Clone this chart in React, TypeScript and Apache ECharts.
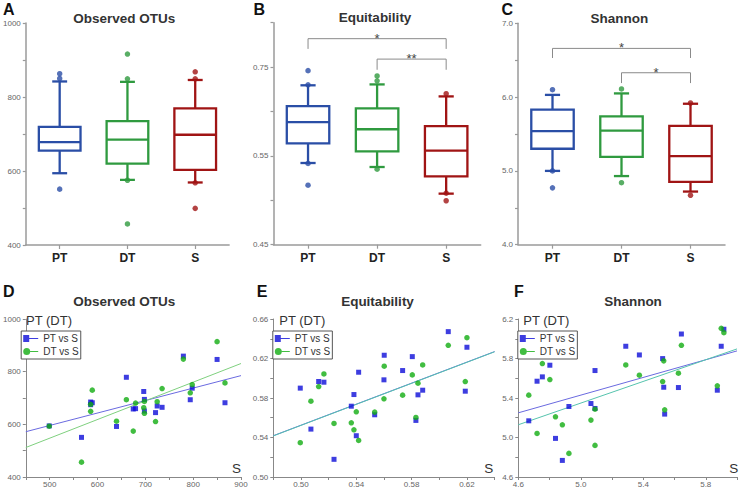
import React, { useEffect, useRef } from 'react';
import * as echarts from 'echarts';

const FONT = '"Liberation Sans", Arial, Helvetica, sans-serif';

// ---------- top row: box plots ----------
const GROUPS = ['PT', 'DT', 'S'];
const BOX_COLORS = ['#2a4ea6', '#2f9a3f', '#a01414'];

// [lower whisker, Q1, median, Q3, upper whisker]
const OTU_BOX = [
  [594, 655, 678, 719, 842],
  [576, 620, 685, 735, 841],
  [569, 603, 698, 769, 846],
];
const OTU_DOTS = [
  [863, 850, 551],
  [916, 849, 575, 457],
  [868, 849, 568, 499],
];
const EQ_BOX = [
  [0.534, 0.578, 0.626, 0.662, 0.709],
  [0.525, 0.56, 0.61, 0.657, 0.711],
  [0.465, 0.504, 0.562, 0.617, 0.684],
];
const EQ_DOTS = [
  [0.742, 0.71, 0.533, 0.484],
  [0.73, 0.719, 0.52],
  [0.69, 0.466, 0.449],
];
const SH_BOX = [
  [5.0, 5.3, 5.54, 5.83, 6.03],
  [4.93, 5.19, 5.545, 5.74, 6.05],
  [4.72, 4.85, 5.2, 5.61, 5.91],
];
const SH_DOTS = [
  [6.1, 5.0, 4.77],
  [6.11, 4.84],
  [5.92, 4.67],
];
// significance brackets: [from group, to group, bracket top, leg end]
const EQ_BRACKETS = [
  [0, 2, 0.814, 0.791],
  [1, 2, 0.768, 0.744],
];
const EQ_STARS = ['*', '**'];
const SH_BRACKETS = [
  [0, 2, 6.66, 6.53],
  [1, 2, 6.33, 6.19],
];
const SH_STARS = ['*', '*'];

const OTU_BOX_TICKS = ['400', '', '600', '', '800', '', '1000'];
const EQ_BOX_TICKS = ['0.45', '', '0.55', '', '0.75', ''];
const SH_BOX_TICKS = ['4.0', '', '5.0', '', '6.0', '', '7.0'];

// ---------- bottom row: scatter plots ----------
const OTU_S = [499, 566.5, 585.6, 585.6, 589, 639.7, 660.3, 674.7, 679.5, 696.6, 698, 698, 721.3, 724.7, 735, 779.5, 793.9, 798, 850, 866.5];
const OTU_PT = [594, 550.5, 684.7, 674.6, 682, 591.9, 778.7, 658.3, 659.6, 724.8, 694.7, 650.8, 644.5, 669.6, 664.6, 859, 693.4, 737.3, 846.4, 682];
const OTU_DT = [593, 456.4, 675.9, 649.5, 729.8, 612, 693.4, 574.3, 680.9, 663.3, 642, 687, 610.7, 686, 736, 847.7, 719.8, 751, 914, 757.4];
const OTU_PT_FIT = [[450, 572], [900, 785]];
const OTU_DT_FIT = [[450, 512], [900, 831]];

const EQ_S = [0.4995, 0.5072, 0.5128, 0.5166, 0.5239, 0.5364, 0.5383, 0.54, 0.5417, 0.5533, 0.56, 0.5602, 0.5735, 0.5805, 0.5831, 0.5846, 0.588, 0.6065, 0.6188, 0.62];
const EQ_PT = [0.59, 0.5485, 0.5967, 0.596, 0.5179, 0.5717, 0.5835, 0.5418, 0.6061, 0.563, 0.5984, 0.6233, 0.6078, 0.6219, 0.5573, 0.5832, 0.5879, 0.6472, 0.5869, 0.6314];
const EQ_DT = [0.5347, 0.5768, 0.5916, 0.6044, 0.5542, 0.5549, 0.5478, 0.566, 0.537, 0.5657, 0.5792, 0.6122, 0.5829, 0.6034, 0.5603, 0.595, 0.6135, 0.6334, 0.5967, 0.6411];
const EQ_PT_FIT = [[0.48, 0.5418], [0.64, 0.627]];
const EQ_DT_FIT = [[0.48, 0.5416], [0.64, 0.6268]];

const SH_S = [4.667, 4.72, 4.754, 4.802, 4.838, 4.882, 4.924, 5.065, 5.091, 5.091, 5.288, 5.375, 5.524, 5.531, 5.537, 5.625, 5.644, 5.874, 5.899, 5.916];
const SH_PT = [5.169, 5.57, 5.614, 5.732, 4.991, 4.768, 5.314, 5.344, 5.678, 5.294, 5.924, 5.836, 5.799, 5.509, 5.237, 5.506, 6.048, 5.479, 5.924, 6.096];
const SH_DT = [5.429, 5.041, 5.749, 5.587, 5.21, 5.129, 4.839, 5.176, 5.287, 4.92, 5.735, 5.631, 5.567, 5.776, 5.28, 5.651, 5.934, 5.523, 6.106, 6.062];
const SH_PT_FIT = [[4.6, 5.25], [6.0, 5.877]];
const SH_DT_FIT = [[4.6, 5.129], [6.0, 5.897]];

const OTU_X_TICKS = ['', '500', '', '600', '', '700', '', '800', '', '900'];
const OTU_Y_TICKS = ['400', '', '600', '', '800', '', '1000'];
const EQ_X_TICKS = ['', '0.50', '', '0.54', '', '0.58', '', '0.62', ''];
const EQ_Y_TICKS = ['0.50', '', '0.54', '', '0.58', '', '0.62', '', '0.66'];
const SH_X_TICKS = ['4.6', '', '5.0', '', '5.4', '', '5.8', ''];
const SH_Y_TICKS = ['4.6', '', '5.0', '', '5.4', '', '5.8', '', '6.2'];

const PT_COLOR = '#0c0cd8';
const DT_COLOR = '#12ad12';

const SQ_ICON = 'path://M0,0 L6,0 L6,7 L0,7 Z M6,3 L15,3 L15,4 L6,4 Z';
const CI_ICON = 'path://M0,3.5 A3.5,3.5 0 1 1 7,3.5 A3.5,3.5 0 1 1 0,3.5 Z M7,3 L15,3 L15,4 L7,4 Z';

function tickFormatter(labels: string[], min: number, interval: number) {
  return (v: number) => {
    const k = Math.round((v - min) / interval);
    return labels[k] ?? '';
  };
}

function boxRender(params: any, api: any) {
  const k = api.value(0);
  const pLow = api.coord([k, api.value(1)]);
  const pQ1 = api.coord([k, api.value(2)]);
  const pMed = api.coord([k, api.value(3)]);
  const pQ3 = api.coord([k, api.value(4)]);
  const pHigh = api.coord([k, api.value(5)]);
  const band = api.size([1, 0])[0];
  const bw = band * 0.615;
  const cw = band * 0.22;
  const cx = pMed[0];
  const color = BOX_COLORS[params.dataIndex];
  const st = { stroke: color, lineWidth: 2.3, fill: 'none' };
  return {
    type: 'group',
    children: [
      { type: 'line', shape: { x1: cx, y1: pHigh[1], x2: cx, y2: pQ3[1] }, style: st },
      { type: 'line', shape: { x1: cx, y1: pQ1[1], x2: cx, y2: pLow[1] }, style: st },
      { type: 'line', shape: { x1: cx - cw / 2, y1: pHigh[1], x2: cx + cw / 2, y2: pHigh[1] }, style: st },
      { type: 'line', shape: { x1: cx - cw / 2, y1: pLow[1], x2: cx + cw / 2, y2: pLow[1] }, style: st },
      {
        type: 'rect',
        shape: { x: cx - bw / 2, y: pQ3[1], width: bw, height: pQ1[1] - pQ3[1] },
        style: { stroke: color, lineWidth: 2.3, fill: '#fff' },
      },
      { type: 'line', shape: { x1: cx - bw / 2, y1: pMed[1], x2: cx + bw / 2, y2: pMed[1] }, style: st },
    ],
  };
}

function bracketRender(stars: string[]) {
  return (params: any, api: any) => {
    const a = api.coord([api.value(0), api.value(2)]);
    const b = api.coord([api.value(1), api.value(2)]);
    const legEnd = api.coord([api.value(0), api.value(3)])[1];
    return {
      type: 'group',
      children: [
        {
          type: 'polyline',
          shape: { points: [[a[0], legEnd], [a[0], a[1]], [b[0], b[1]], [b[0], legEnd]] },
          style: { stroke: '#8a8a8a', lineWidth: 1, fill: 'none' },
        },
        {
          type: 'text',
          style: {
            text: stars[params.dataIndex],
            x: (a[0] + b[0]) / 2,
            y: a[1] - 0.5,
            align: 'center',
            verticalAlign: 'middle',
            fontSize: 13,
            fontFamily: FONT,
            fill: '#444',
          },
        },
      ],
    };
  };
}

function buildOption() {
  const boxGrids = [
    { left: 22.5, top: 23, width: 206.6, height: 222 },
    { left: 273.5, top: 22.7, width: 207.2, height: 222 },
    { left: 518, top: 23.3, width: 207, height: 221.4 },
  ];
  const scGrids = [
    { left: 21.7, top: 319, width: 219.3, height: 158.3 },
    { left: 273.3, top: 319, width: 221.3, height: 158.3 },
    { left: 518.3, top: 319, width: 221.6, height: 158.3 },
  ];
  const boxY = [
    { min: 400, max: 1000, interval: 100, labels: OTU_BOX_TICKS },
    { min: 0.35, max: 0.85, interval: 0.1, labels: EQ_BOX_TICKS },
    { min: 4, max: 7, interval: 0.5, labels: SH_BOX_TICKS },
  ];
  const scX = [
    { min: 450, max: 900, interval: 50, labels: OTU_X_TICKS },
    { min: 0.48, max: 0.64, interval: 0.02, labels: EQ_X_TICKS },
    { min: 4.6, max: 6.0, interval: 0.2, labels: SH_X_TICKS },
  ];
  const scY = [
    { min: 400, max: 1000, interval: 100, labels: OTU_Y_TICKS },
    { min: 0.5, max: 0.66, interval: 0.02, labels: EQ_Y_TICKS },
    { min: 4.6, max: 6.2, interval: 0.2, labels: SH_Y_TICKS },
  ];

  const boxAxisLine = { show: true, onZero: false, lineStyle: { color: '#9a9a9a', width: 1.5 } };
  const scAxisLine = { show: true, onZero: false, lineStyle: { color: '#888', width: 1 } };
  const tickLabel = { fontSize: 8, color: '#666', fontFamily: FONT };

  const xAxis: any[] = [];
  const yAxis: any[] = [];
  boxGrids.forEach((_, i) => {
    xAxis.push({
      type: 'category',
      gridIndex: i,
      data: GROUPS,
      boundaryGap: true,
      axisLine: boxAxisLine,
      axisTick: { show: true, alignWithLabel: true, length: 4, lineStyle: { color: '#9a9a9a', width: 1.2 } },
      axisLabel: { fontSize: 12, fontWeight: 'bold', color: '#222', margin: 7, fontFamily: FONT },
      splitLine: { show: false },
    });
    const y = boxY[i];
    yAxis.push({
      type: 'value',
      gridIndex: i,
      min: y.min,
      max: y.max,
      interval: y.interval,
      axisLine: boxAxisLine,
      axisTick: { show: true, length: 3, lineStyle: { color: '#9a9a9a', width: 1.2 } },
      axisLabel: { ...tickLabel, margin: 5, formatter: tickFormatter(y.labels, y.min, y.interval) },
      splitLine: { show: false },
    });
  });
  scGrids.forEach((_, i) => {
    const x = scX[i];
    const y = scY[i];
    xAxis.push({
      type: 'value',
      gridIndex: 3 + i,
      min: x.min,
      max: x.max,
      interval: x.interval,
      axisLine: scAxisLine,
      axisTick: { show: true, length: 3, lineStyle: { color: '#888' } },
      axisLabel: { ...tickLabel, margin: 3, formatter: tickFormatter(x.labels, x.min, x.interval) },
      splitLine: { show: false },
    });
    yAxis.push({
      type: 'value',
      gridIndex: 3 + i,
      min: y.min,
      max: y.max,
      interval: y.interval,
      axisLine: scAxisLine,
      axisTick: { show: true, length: 3, lineStyle: { color: '#888' } },
      axisLabel: { ...tickLabel, margin: 5, formatter: tickFormatter(y.labels, y.min, y.interval) },
      splitLine: { show: false },
    });
  });

  const series: any[] = [];
  const boxSets = [
    { box: OTU_BOX, dots: OTU_DOTS, brackets: null as any, stars: [] as string[] },
    { box: EQ_BOX, dots: EQ_DOTS, brackets: EQ_BRACKETS, stars: EQ_STARS },
    { box: SH_BOX, dots: SH_DOTS, brackets: SH_BRACKETS, stars: SH_STARS },
  ];
  boxSets.forEach((set, i) => {
    series.push({
      type: 'custom',
      xAxisIndex: i,
      yAxisIndex: i,
      data: set.box.map((s, k) => [k, ...s]),
      encode: { x: 0, y: [1, 2, 3, 4, 5] },
      renderItem: boxRender,
      silent: true,
      z: 2,
    });
    series.push({
      type: 'scatter',
      xAxisIndex: i,
      yAxisIndex: i,
      symbol: 'circle',
      symbolSize: 5.5,
      data: set.dots.flatMap((arr, k) => arr.map((v) => [k, v])),
      itemStyle: { color: (p: any) => BOX_COLORS[p.value[0]] },
      silent: true,
      z: 3,
    });
    if (set.brackets) {
      series.push({
        type: 'custom',
        xAxisIndex: i,
        yAxisIndex: i,
        data: set.brackets,
        encode: { x: [0, 1], y: [2, 3] },
        renderItem: bracketRender(set.stars),
        silent: true,
        z: 4,
      });
    }
  });

  const scSets = [
    { s: OTU_S, pt: OTU_PT, dt: OTU_DT, ptFit: OTU_PT_FIT, dtFit: OTU_DT_FIT, ptLine: '#6a6ae0', dtLine: '#7fd07f' },
    { s: EQ_S, pt: EQ_PT, dt: EQ_DT, ptFit: EQ_PT_FIT, dtFit: EQ_DT_FIT, ptLine: '#6a6ae0', dtLine: '#56c4ae' },
    { s: SH_S, pt: SH_PT, dt: SH_DT, ptFit: SH_PT_FIT, dtFit: SH_DT_FIT, ptLine: '#6a6ae0', dtLine: '#56c4ae' },
  ];
  scSets.forEach((set, i) => {
    const ax = 3 + i;
    series.push({
      type: 'line',
      name: 'PT fit ' + i,
      xAxisIndex: ax,
      yAxisIndex: ax,
      data: set.ptFit,
      symbol: 'none',
      lineStyle: { color: set.ptLine, width: 1 },
      silent: true,
      z: 1,
    });
    series.push({
      type: 'line',
      name: 'DT fit ' + i,
      xAxisIndex: ax,
      yAxisIndex: ax,
      data: set.dtFit,
      symbol: 'none',
      lineStyle: { color: set.dtLine, width: 1 },
      silent: true,
      z: 1,
    });
    series.push({
      type: 'scatter',
      name: 'PT vs S',
      xAxisIndex: ax,
      yAxisIndex: ax,
      symbol: 'rect',
      symbolSize: 5,
      data: set.s.map((x, j) => [x, set.pt[j]]),
      itemStyle: { color: PT_COLOR },
      silent: true,
      z: 3,
    });
    series.push({
      type: 'scatter',
      name: 'DT vs S',
      xAxisIndex: ax,
      yAxisIndex: ax,
      symbol: 'circle',
      symbolSize: 5.5,
      data: set.s.map((x, j) => [x, set.dt[j]]),
      itemStyle: { color: DT_COLOR },
      silent: true,
      z: 3,
    });
  });

  const legend = scGrids.map((g) => ({
    orient: 'vertical',
    left: g.left - 0.5,
    top: 331,
    data: [
      { name: 'PT vs S', icon: SQ_ICON },
      { name: 'DT vs S', icon: CI_ICON },
    ],
    itemWidth: 15,
    itemHeight: 7,
    itemGap: 2,
    padding: [2, 2, 2, 2],
    borderColor: '#555',
    borderWidth: 1,
    backgroundColor: '#fff',
    selectedMode: false,
    textStyle: { fontSize: 10, color: '#333', fontFamily: FONT, lineHeight: 11 },
  }));

  const txt = (text: string, x: number, y: number, size: number, bold: boolean, align: string, color = '#333') => ({
    type: 'text',
    x,
    y,
    silent: true,
    style: {
      text,
      fontSize: size,
      fontWeight: bold ? 'bold' : 'normal',
      fontFamily: FONT,
      fill: color,
      align,
      verticalAlign: 'middle',
    },
  });

  const graphic = [
    txt('A', 3, 9, 16, true, 'left', '#111'),
    txt('B', 253.5, 9, 16, true, 'left', '#111'),
    txt('C', 501.5, 9, 16, true, 'left', '#111'),
    txt('Observed OTUs', 124.3, 18.2, 13.5, true, 'center'),
    txt('Equitability', 375, 17.2, 13.5, true, 'center'),
    txt('Shannon', 619.3, 18.2, 13.5, true, 'center'),
    txt('D', 3, 291.7, 16, true, 'left', '#111'),
    txt('E', 256.7, 291.8, 16, true, 'left', '#111'),
    txt('F', 514, 291.8, 16, true, 'left', '#111'),
    txt('Observed OTUs', 124.3, 301.3, 13.5, true, 'center'),
    txt('Equitability', 377.5, 301.3, 13.5, true, 'center'),
    txt('Shannon', 633, 301.3, 13.5, true, 'center'),
    txt('PT (DT)', 26, 320.7, 13, false, 'left'),
    txt('PT (DT)', 279.3, 320.7, 13, false, 'left'),
    txt('PT (DT)', 523.3, 320.7, 13, false, 'left'),
    txt('S', 241, 468.5, 13.5, false, 'right'),
    txt('S', 493.3, 468.5, 13.5, false, 'right'),
    txt('S', 738.3, 468.5, 13.5, false, 'right'),
  ];

  return {
    animation: false,
    backgroundColor: '#fff',
    textStyle: { fontFamily: FONT },
    grid: [...boxGrids, ...scGrids].map((g) => ({ ...g, containLabel: false })),
    xAxis,
    yAxis,
    legend,
    graphic,
    series,
  };
}

export default function App() {
  const ref = useRef<HTMLDivElement>(null);
  useEffect(() => {
    document.body.style.margin = '0';
    const chart = echarts.init(ref.current as HTMLDivElement, null, { renderer: 'svg' });
    chart.setOption(buildOption() as any);
    return () => chart.dispose();
  }, []);
  return <div ref={ref} style={{ width: 740, height: 488 }} />;
}
